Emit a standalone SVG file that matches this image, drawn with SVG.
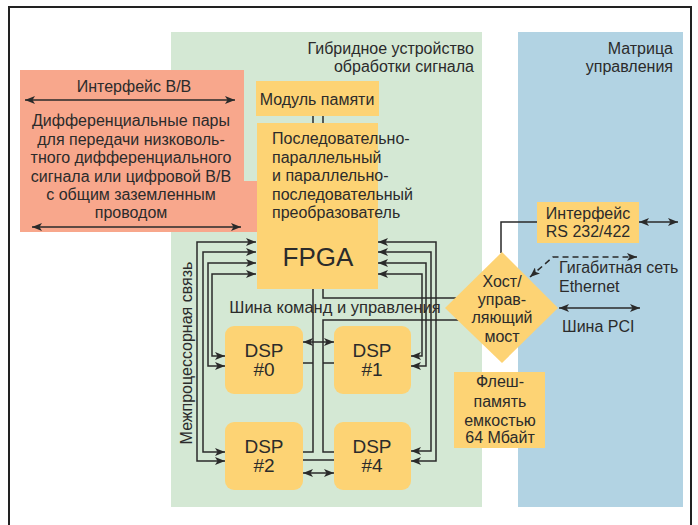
<svg xmlns="http://www.w3.org/2000/svg" width="698" height="525" viewBox="0 0 698 525">
<defs>
<marker id="ah" viewBox="0 0 10 8" refX="10" refY="4" markerWidth="10" markerHeight="8" markerUnits="userSpaceOnUse" orient="auto-start-reverse"><path d="M0,0 L10,4 L0,8 L2.5,4 z" fill="#2a2a2a"/></marker>
<style>
text{font-family:"Liberation Sans",Arial,sans-serif;fill:#2b2b2b;}
.t{font-size:16px;}
.c{text-anchor:middle;}
.r{text-anchor:end;}
.box{fill:#fdd374;}
.ln{fill:none;stroke:#2a2a2a;stroke-width:1.5;}
.a2{marker-start:url(#ah);marker-end:url(#ah);}
.dsp{font-size:19px;text-anchor:middle;}
</style>
</defs>
<rect x="0" y="0" width="698" height="525" fill="#fff"/>
<rect x="9" y="7" width="682" height="540" fill="none" stroke="#222" stroke-width="2"/>

<g id="hybrid">
<rect x="171" y="32" width="311" height="475" fill="#d4e8d4"/>
<text class="t r" x="474" y="54">Гибридное устройство</text>
<text class="t r" x="474" y="72">обработки сигнала</text>
</g>
<g id="matrix">
<rect x="518" y="32" width="165" height="475" fill="#b2d3e3"/>
<text class="t r" x="673" y="54">Матрица</text>
<text class="t r" x="673" y="72">управления</text>
</g>

<g id="io">
<path d="M20,70 H244 V181 H258 V232 H20 Z" fill="#f8a78c"/>
<text class="t c" x="134" y="92">Интерфейс В/В</text>
<text class="t c" x="131" y="126">Дифференциальные пары</text>
<text class="t c" x="131" y="144.5">для передачи низковоль-</text>
<text class="t c" x="131" y="163">тного дифференциального</text>
<text class="t c" x="131" y="181.5">сигнала или цифровой В/В</text>
<text class="t c" x="131" y="200">с общим заземленным</text>
<text class="t c" x="131" y="218">проводом</text>
</g>

<g id="memory">
<rect class="box" x="256" y="81" width="123" height="35"/>
<text class="t c" x="317" y="105">Модуль памяти</text>
</g>

<g id="fpga">
<rect class="box" x="257" y="123" width="121" height="166"/>
<text class="t" x="272" y="144">Последовательно-</text>
<text class="t" x="272" y="162.5">параллельный</text>
<text class="t" x="272" y="181">и параллельно-</text>
<text class="t" x="272" y="199.5">последовательный</text>
<text class="t" x="272" y="218">преобразователь</text>
<text x="318" y="266" style="font-size:26px;text-anchor:middle">FPGA</text>
</g>

<g id="dsp0"><rect class="box" x="225" y="326" width="78" height="68" rx="9"/><text class="dsp" x="264" y="357">DSP</text><text class="dsp" x="264" y="376">#0</text></g>
<g id="dsp1"><rect class="box" x="334" y="326" width="77" height="68" rx="9"/><text class="dsp" x="372" y="357">DSP</text><text class="dsp" x="372" y="376">#1</text></g>
<g id="dsp2"><rect class="box" x="225" y="422" width="78" height="68" rx="9"/><text class="dsp" x="264" y="453">DSP</text><text class="dsp" x="264" y="472">#2</text></g>
<g id="dsp4"><rect class="box" x="334" y="422" width="77" height="68" rx="9"/><text class="dsp" x="372" y="453">DSP</text><text class="dsp" x="372" y="472">#4</text></g>

<g id="rs232">
<rect class="box" x="537" y="202" width="102" height="41"/>
<text class="t c" x="588" y="219">Интерфейс</text>
<text class="t c" x="588" y="237">RS 232/422</text>
</g>

<g id="flash">
<rect class="box" x="454" y="372" width="91" height="76"/>
<text class="t c" x="500" y="387">Флеш-</text>
<text class="t c" x="500" y="407">память</text>
<text class="t c" x="500" y="426">емкостью</text>
<text class="t c" x="500" y="443">64 Мбайт</text>
</g>

<g id="connectors">
<path class="ln a2" d="M25,100 H235"/>
<path class="ln a2" d="M32,227 H241"/>
<path class="ln" d="M313,116 V123 M323,116 V123"/>
<path class="ln a2" d="M256,242 H197 V461 H225"/>
<path class="ln a2" d="M256,252 H203 V452 H225"/>
<path class="ln a2" d="M256,263 H208 V366 H225"/>
<path class="ln a2" d="M256,274 H212 V356 H225"/>
<path class="ln a2" d="M378,242 H436 V461 H411"/>
<path class="ln a2" d="M378,252 H431 V451 H411"/>
<path class="ln a2" d="M378,263 H426 V366 H411"/>
<path class="ln a2" d="M378,274 H422 V356 H411"/>
<path class="ln" d="M313,289 V452 H303 M303,363 H313"/>
<path class="ln" d="M323,289 V298 H470"/>
<path class="ln" d="M470,320 H323 V452 H334 M323,363 H334"/>
<path class="ln" d="M303,460 H334"/>
<path class="ln a2" d="M303,342 H334"/>
<path class="ln a2" d="M303,473 H334"/>
<path class="ln" d="M501,253 V222 H537"/>
<path class="ln a2" d="M639,222 H678"/>
<path class="ln a2" d="M559,308 H640"/>
<path class="ln a2" d="M530,277 L553,257 H637" stroke-dasharray="6,4"/>
</g>

<g id="bus-label">
<text x="335" y="313" style="font-size:16.5px;text-anchor:middle">Шина команд и управления</text>
</g>

<g id="bridge">
<polygon points="502,252 558,308 502,363 445,308" fill="#fdd374"/>
<text class="t c" x="502" y="287">Хост/</text>
<text class="t c" x="502" y="305">управ-</text>
<text class="t c" x="502" y="323">ляющий</text>
<text class="t c" x="502" y="342">мост</text>
</g>

<g id="labels">
<text class="t" x="559" y="273">Гигабитная сеть</text>
<text class="t" x="559" y="292">Ethernet</text>
<text class="t" x="562" y="332">Шина PCI</text>
<text class="t c" transform="translate(192,353) rotate(-90)">Межпроцессорная связь</text>
</g>
</svg>
